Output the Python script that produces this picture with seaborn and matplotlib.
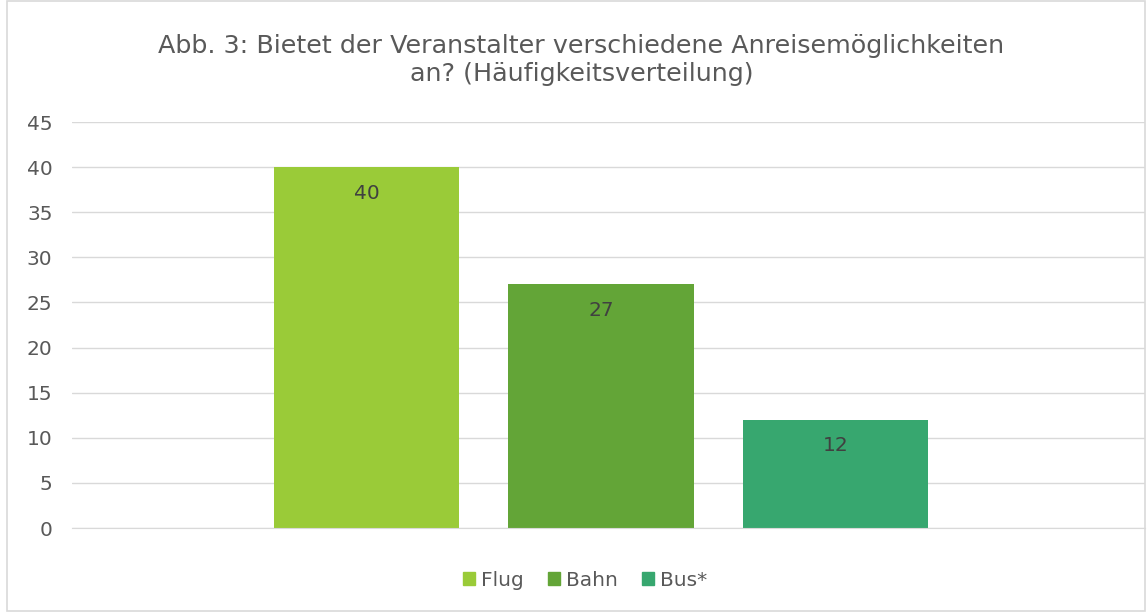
import pandas as pd
import matplotlib.pyplot as plt
import seaborn as sns
from matplotlib.patches import Rectangle

categories = ["Flug", "Bahn", "Bus*"]
counts = [40, 27, 12]
colors = ["#9ACB38", "#63A537", "#37A76F"]
title = "Abb. 3: Bietet der Veranstalter verschiedene Anreisemöglichkeiten\nan? (Häufigkeitsverteilung)"

df = pd.DataFrame({"Anreise": categories, "Anzahl": counts})

sns.set_style("white")
plt.rcParams["font.family"] = ["DejaVu Sans"]

fig = plt.figure(figsize=(11.47, 6.12), dpi=100)
ax = fig.add_axes([72 / 1147, 1 - 528 / 612, (1145 - 72) / 1147, (528 - 122) / 612])

sns.barplot(
    data=df, x="Anreise", y="Anzahl", hue="Anreise",
    palette=colors, width=0.789, saturation=1, legend=False,
    linewidth=0, ax=ax)

# value labels just inside the bar tops
for i, v in enumerate(counts):
    ax.text(i, v - 2.9, str(v), ha="center", va="center", fontsize=14.5, color="#404040")

ax.set_xlim(-1.256, 3.32)
ax.set_ylim(0, 45)
ax.set_yticks(range(0, 50, 5))
ax.yaxis.grid(True, color="#D9D9D9", linewidth=1)
ax.set_axisbelow(True)
ax.set_xticks([])
ax.set_xlabel("")
ax.set_ylabel("")
for s in ["top", "right", "left"]:
    ax.spines[s].set_visible(False)
ax.spines["bottom"].set_color("#D9D9D9")
ax.tick_params(axis="y", length=0, labelsize=14.5, labelcolor="#595959", pad=14)

fig.text(0.507, 1 - 60 / 612, title, ha="center", va="center", fontsize=18.3,
         color="#595959", linespacing=1.2)

handles = [Rectangle((0, 0), 1, 1, color=c) for c in colors]
fig.legend(handles, categories, loc="center", bbox_to_anchor=(0.51, 1 - 580 / 612),
           ncol=3, frameon=False, fontsize=14.5, handlelength=0.6, handleheight=0.6,
           handletextpad=0.3, columnspacing=1.2, labelcolor="#595959")

fig.patches.append(Rectangle((7 / 1147, 0.002), 1 - 9 / 1147, 0.996, transform=fig.transFigure,
                             fill=False, edgecolor="#D9D9D9", linewidth=1.2))

fig.savefig("out.png", dpi=100)
